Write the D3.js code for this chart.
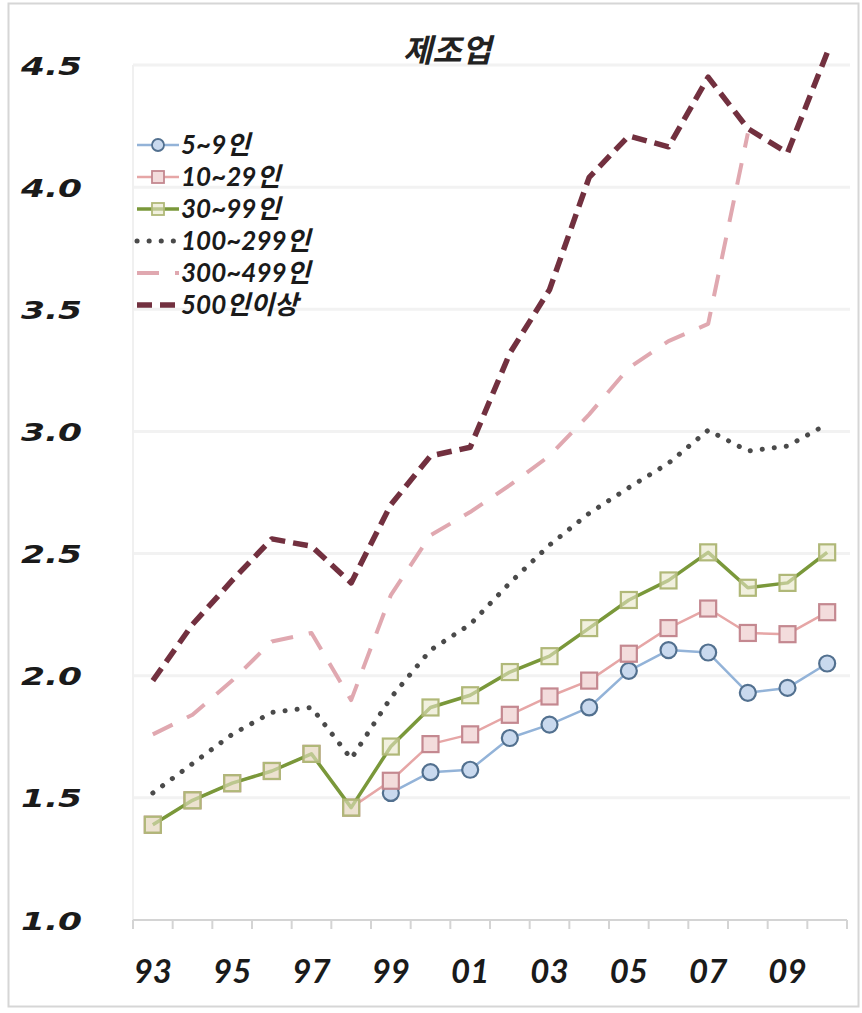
<!DOCTYPE html>
<html>
<head>
<meta charset="utf-8">
<script src="https://cdn.jsdelivr.net/npm/d3@7"></script>
<style>
  body { margin: 0; background: #fff; }
  svg { display: block; }
</style>
</head>
<body>
<svg></svg>
<script>
// DATA

let years = [1993, 1994, 1995, 1996, 1997, 1998, 1999, 2000, 2001,
             2002, 2003, 2004, 2005, 2006, 2007, 2008, 2009, 2010];
let labelYears = [1993, 1995, 1997, 1999, 2001, 2003, 2005, 2007, 2009];
let yTicks = [1.0, 1.5, 2.0, 2.5, 3.0, 3.5, 4.0, 4.5];

let s5_9     = [null, null, null, null, null, null, 1.52, 1.605, 1.615, 1.745, 1.80, 1.87, 2.02, 2.105, 2.095, 1.93, 1.95, 2.05];
let s10_29   = [1.39, 1.49, 1.56, 1.61, 1.68, 1.46, 1.57, 1.72, 1.76, 1.84, 1.915, 1.98, 2.09, 2.195, 2.275, 2.175, 2.17, 2.26];
let s30_99   = [1.39, 1.49, 1.56, 1.61, 1.68, 1.46, 1.71, 1.87, 1.92, 2.015, 2.08, 2.195, 2.31, 2.39, 2.505, 2.36, 2.38, 2.505];
let s100_299 = [1.52, 1.64, 1.76, 1.85, 1.87, 1.66, 1.91, 2.105, 2.21, 2.38, 2.535, 2.665, 2.77, 2.87, 3.005, 2.92, 2.94, 3.03];
let s300_499 = [1.76, 1.84, 1.98, 2.14, 2.175, 1.90, 2.33, 2.575, 2.67, 2.78, 2.90, 3.07, 3.26, 3.37, 3.44, 4.22, null, null];
let s500     = [1.98, 2.21, 2.39, 2.56, 2.53, 2.38, 2.70, 2.90, 2.935, 3.32, 3.58, 4.04, 4.21, 4.165, 4.45, 4.24, 4.14, 4.55];

let seriesNames = ["5~9인", "10~29인", "30~99인", "100~299인", "300~499인", "500인이상"];

// PAGE SETUP

let width = 862, height = 1013;

var svg = d3.select("svg")
  .attr("width", width)
  .attr("height", height);

svg.append("rect")
  .attr("width", width).attr("height", height)
  .attr("fill", "#fff");

// outer frame
svg.append("rect")
  .attr("x", 8.5).attr("y", 3.5)
  .attr("width", 850).attr("height", 1003)
  .attr("fill", "none")
  .attr("stroke", "#d6d6d6")
  .attr("stroke-width", 2);

let x = d3.scaleBand()
  .domain(years)
  .range([133, 847]);

let y = d3.scaleLinear()
  .domain([1, 4.5])
  .range([920, 65]);

// GRID + AXES

svg.append("g")
  .selectAll("line")
  .data(yTicks.slice(1))
  .enter()
  .append("line")
  .attr("x1", 133).attr("x2", 850)
  .attr("y1", d => y(d)).attr("y2", d => y(d))
  .attr("stroke", "#f2f2f2")
  .attr("stroke-width", 3);

// faint vertical axis
svg.append("line")
  .attr("x1", 133).attr("x2", 133)
  .attr("y1", y(4.5)).attr("y2", y(1))
  .attr("stroke", "#f0f0f0")
  .attr("stroke-width", 2);

let yAxis = svg.append("g")
  .attr("transform", "translate(82,0)")
  .call(d3.axisLeft(y).tickValues(yTicks).tickFormat(d3.format(".1f")).tickSize(0).tickPadding(0));
yAxis.select(".domain").remove();
// the reference digits are stretched sideways, so widen them around the right edge
yAxis.selectAll("text")
  .attr("font-family", "'DejaVu Sans', Verdana, sans-serif")
  .attr("font-weight", "bold")
  .attr("font-style", "italic")
  .attr("font-size", 25)
  .attr("fill", "#1a1a1a")
  .attr("dy", "0.36em")
  .attr("x", 0)
  .attr("text-anchor", "end")
  .attr("transform", "scale(1.38,1)");

// x axis line + ticks at band boundaries
svg.append("line")
  .attr("x1", 133).attr("x2", 847)
  .attr("y1", 920).attr("y2", 920)
  .attr("stroke", "#d4d4d4")
  .attr("stroke-width", 2);

let bounds = years.map(d => x(d)).concat([x(years[years.length-1]) + x.bandwidth()]);
svg.append("g")
  .selectAll("line")
  .data(bounds)
  .enter()
  .append("line")
  .attr("x1", d => d).attr("x2", d => d)
  .attr("y1", 920).attr("y2", 929)
  .attr("stroke", "#d4d4d4")
  .attr("stroke-width", 2);

let xAxis = svg.append("g")
  .attr("transform", "translate(0,920)")
  .call(d3.axisBottom(x).tickValues(labelYears).tickFormat(d => String(d).slice(2)).tickSize(0).tickPadding(0));
xAxis.select(".domain").remove();
xAxis.selectAll("text")
  .attr("font-family", "Lato, 'Open Sans', sans-serif")
  .attr("font-weight", "bold")
  .attr("font-style", "italic")
  .attr("font-size", 33)
  .attr("fill", "#1a1a1a")
  .attr("dy", 0)
  .attr("y", 63);

// TITLE

svg.append("text")
  .attr("x", 447).attr("y", 62)
  .attr("text-anchor", "middle")
  .attr("font-family", "'Noto Sans CJK KR', sans-serif")
  .attr("font-weight", "bold")
  .attr("font-style", "italic")
  .attr("font-size", 32)
  .attr("fill", "#222")
  .text("제조업");

// SERIES

let styles = [
  {data: s5_9, color: "#93b3d8", w: 2.5, dash: null, marker: "circle", mStroke: "#52708f", mFill: "#c9d9ee"},
  {data: s10_29, color: "#e6a6a6", w: 2.5, dash: null, marker: "square", mStroke: "#c48890", mFill: "#f3dcdc"},
  {data: s30_99, color: "#7a983a", w: 3.5, dash: null, marker: "square", mStroke: "#b0b878", mFill: "rgba(232,230,200,0.6)"},
  {data: s100_299, color: "#4a4a4a", w: 5, dash: "0.1,12", cap: "round", marker: null},
  {data: s300_499, color: "#e0a8b0", w: 4, dash: "22,16", marker: null},
  {data: s500, color: "#72303f", w: 5.5, dash: "15,8", marker: null}
];

let line = d3.line()
  .defined(d => d.v != null)
  .x(d => x(d.year) + x.bandwidth()/2)
  .y(d => y(d.v));

styles.forEach(function(s){
  let pts = years.map((yr, i) => ({year: yr, v: s.data[i]}));
  let g = svg.append("g");
  g.append("path")
    .datum(pts)
    .attr("d", line)
    .attr("fill", "none")
    .attr("stroke", s.color)
    .attr("stroke-width", s.w)
    .attr("stroke-dasharray", s.dash)
    .attr("stroke-linecap", s.cap || "butt")
    .attr("stroke-linejoin", "round");
  if (s.marker == "circle"){
    g.selectAll("circle")
      .data(pts.filter(d => d.v != null))
      .enter()
      .append("circle")
      .attr("cx", d => x(d.year) + x.bandwidth()/2)
      .attr("cy", d => y(d.v))
      .attr("r", 8)
      .attr("fill", s.mFill)
      .attr("stroke", s.mStroke)
      .attr("stroke-width", 2.2);
  }
  else if (s.marker == "square"){
    g.selectAll("rect")
      .data(pts.filter(d => d.v != null))
      .enter()
      .append("rect")
      .attr("x", d => x(d.year) + x.bandwidth()/2 - 8)
      .attr("y", d => y(d.v) - 8)
      .attr("width", 16).attr("height", 16)
      .attr("fill", s.mFill)
      .attr("stroke", s.mStroke)
      .attr("stroke-width", 2.2);
  }
});

// LEGEND

let legend = svg.append("g")
  .selectAll(".legend-item")
  .data(styles)
  .enter()
  .append("g")
  .attr("class", "legend-item")
  .attr("transform", (d, i) => `translate(137,${145 + i*32})`);

legend.append("line")
  .attr("x1", 0).attr("x2", 42)
  .attr("stroke", d => d.color)
  .attr("stroke-width", d => d.w)
  .attr("stroke-dasharray", d => d.dash)
  .attr("stroke-linecap", d => d.cap || "butt");

legend.filter(d => d.marker == "circle")
  .append("circle")
  .attr("cx", 21).attr("r", 6)
  .attr("fill", d => d.mFill).attr("stroke", d => d.mStroke).attr("stroke-width", 1.8);

legend.filter(d => d.marker == "square")
  .append("rect")
  .attr("x", 15).attr("y", -6).attr("width", 12).attr("height", 12)
  .attr("fill", d => d.mFill).attr("stroke", d => d.mStroke).attr("stroke-width", 1.8);

legend.append("text")
  .attr("x", 44).attr("y", 0).attr("dy", "0.35em")
  .attr("font-family", "Lato, 'Noto Sans CJK KR', sans-serif")
  .attr("font-weight", "bold")
  .attr("font-style", "italic")
  .attr("font-size", 26)
  .attr("fill", "#1a1a1a")
  .text((d, i) => seriesNames[i]);
</script>
</body>
</html>
